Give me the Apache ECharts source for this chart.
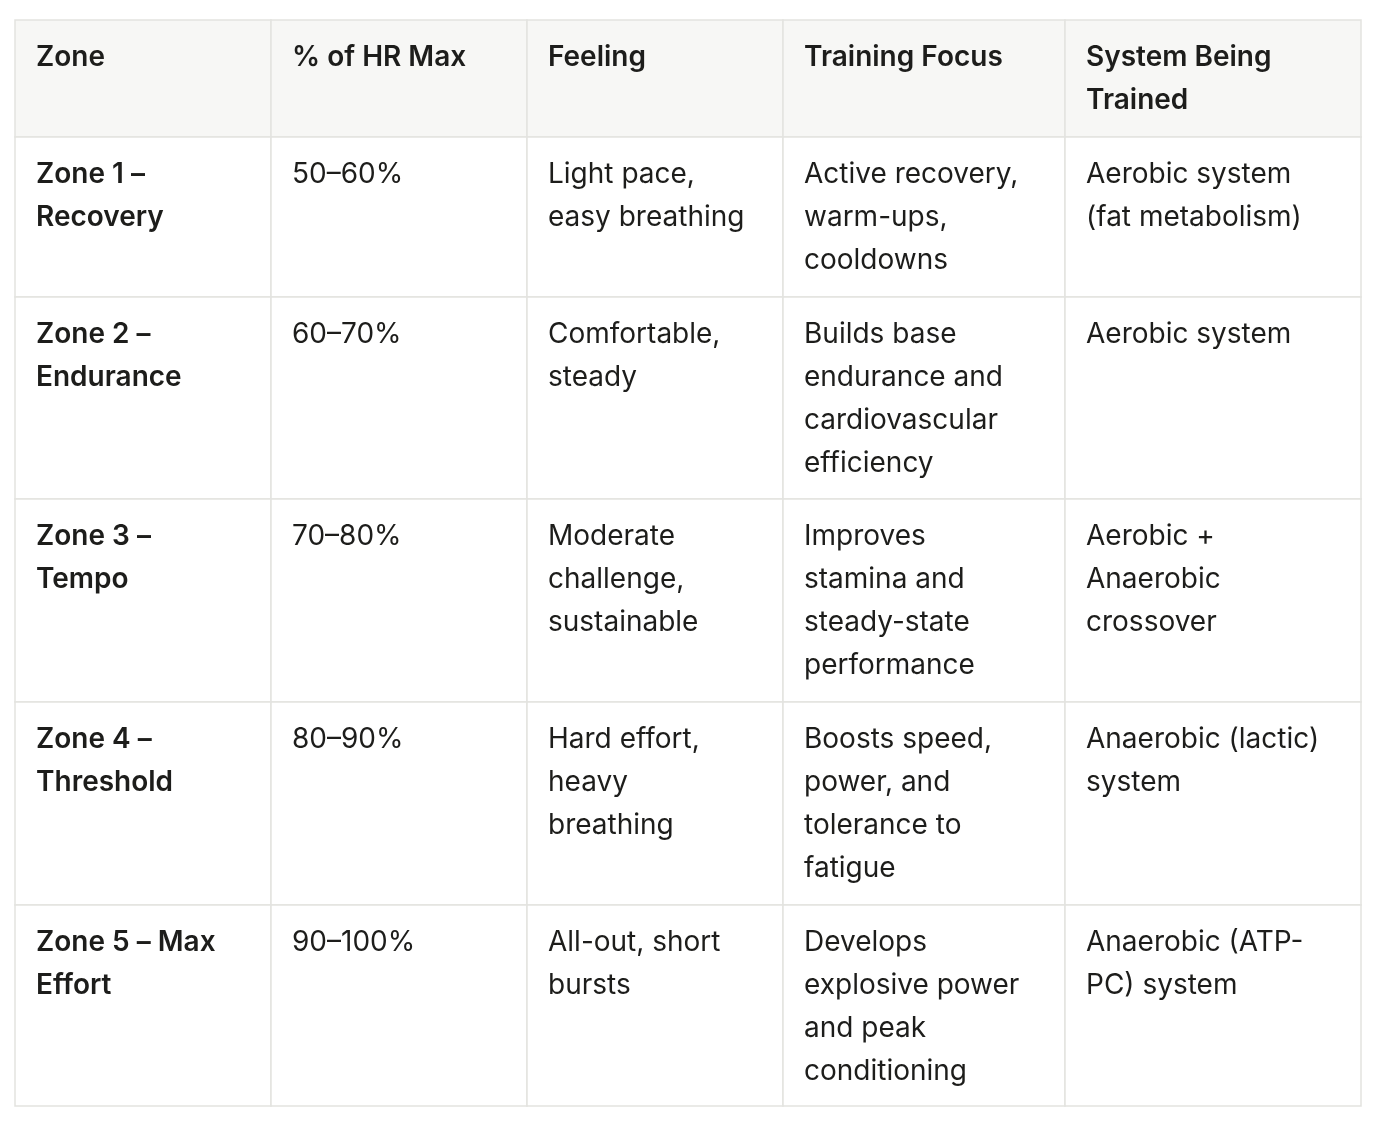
<!DOCTYPE html>
<html>
<head>
<meta charset="utf-8">
<style>
    html, body { margin: 0; padding: 0; overflow: hidden; background: #fff; }
</style>
</head>
<body>
<div id="table" style="width:1380px; height:1128px;"></div>
<script src="https://cdn.jsdelivr.net/npm/echarts@6/dist/echarts.min.js"></script>
<script>
    var headers = ['Zone', '% of HR Max', 'Feeling', 'Training Focus', 'System Being\nTrained'];
    var zones = ['Zone 1 –\nRecovery', 'Zone 2 –\nEndurance', 'Zone 3 –\nTempo', 'Zone 4 –\nThreshold', 'Zone 5 – Max\nEffort'];
    var hrMax = ['50–60%', '60–70%', '70–80%', '80–90%', '90–100%'];
    var feeling = ['Light pace,\neasy breathing', 'Comfortable,\nsteady', 'Moderate\nchallenge,\nsustainable', 'Hard effort,\nheavy\nbreathing', 'All-out, short\nbursts'];
    var focus = ['Active recovery,\nwarm-ups,\ncooldowns', 'Builds base\nendurance and\ncardiovascular\nefficiency', 'Improves\nstamina and\nsteady-state\nperformance', 'Boosts speed,\npower, and\ntolerance to\nfatigue', 'Develops\nexplosive power\nand peak\nconditioning'];
    var system = ['Aerobic system\n(fat metabolism)', 'Aerobic system', 'Aerobic +\nAnaerobic\ncrossover', 'Anaerobic (lactic)\nsystem', 'Anaerobic (ATP-\nPC) system'];

    var colX = [15, 271, 527, 783, 1065, 1361];
    var rowY = [20, 137, 297, 499, 702, 905, 1106];

    var chart = echarts.init(document.getElementById('table'), null, {renderer: 'canvas'});
    var elements = [];
    var rows = [headers];
    for (var i = 0; i < zones.length; i++) {
        rows.push([zones[i], hrMax[i], feeling[i], focus[i], system[i]]);
    }

    rows.forEach(function (row, r) {
        row.forEach(function (txt, c) {
            elements.push({
                type: 'rect',
                shape: {x: colX[c], y: rowY[r], width: colX[c + 1] - colX[c], height: rowY[r + 1] - rowY[r]},
                style: {fill: r === 0 ? '#f7f7f5' : '#ffffff', stroke: '#e3e3e0', lineWidth: 1.5}
            });
            elements.push({
                type: 'text',
                x: colX[c] + 21,
                y: rowY[r] + 16,
                style: {
                    text: txt,
                    font: (r === 0 || c === 0 ? '600 ' : '400 ') + '28px Inter, "Noto Sans", sans-serif',
                    lineHeight: 43,
                    fill: '#1d1d1b',
                    verticalAlign: 'top'
                }
            });
        });
    });

    chart.setOption({graphic: {elements: elements}});
</script>
</body>
</html>
